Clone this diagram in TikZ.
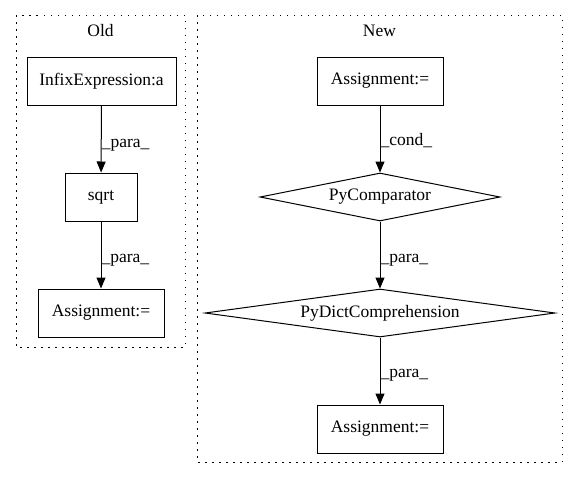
\documentclass[tikz,border=0pt]{standalone}
\usepackage{fontspec}
\setmainfont{Liberation Serif}
\usetikzlibrary{shapes.geometric,arrows.meta}
\begin{document}
\begin{tikzpicture}[x=1pt,y=-1pt,
  every node/.style={font=\fontsize{17.5}{20}\selectfont},
  box/.style={draw,line width=1pt,rectangle,inner sep=0pt},
  dia/.style={draw,line width=1pt,diamond,aspect=5,inner sep=0pt},
  cluster/.style={draw,line width=1pt,dash pattern=on 1.5pt off 5.5pt},
  edge/.style={draw,line width=1pt,-{Triangle[length=11pt,width=9pt]}},
  elab/.style={anchor=west,inner sep=0pt}]
\useasboundingbox (0,0) rectangle (579,480);
% clusters
\draw[cluster] (16,15) rectangle (185,347);
\draw[cluster] (197,15) rectangle (562,462);
\node (oldlab) at (100.5,31) {Old};
\node (newlab) at (379.5,31) {New};
% old nodes
\node[box,minimum width=149pt,minimum height=48pt] (infix) at (101.5,81) {InfixExpression:a};
\node[box,minimum width=72pt,minimum height=48pt] (sqrt) at (101,197) {sqrt};
\node[box,minimum width=126pt,minimum height=48pt] (oass) at (101,313) {Assignment:=};
% new nodes
\node[box,minimum width=126pt,minimum height=48pt] (nass1) at (380,81) {Assignment:=};
\node[dia,minimum width=240pt,minimum height=48pt] (cmp) at (380,197) {PyComparator};
\node[dia,minimum width=350pt,minimum height=48pt] (dict) at (380,313) {PyDictComprehension};
\node[box,minimum width=126pt,minimum height=48pt] (nass2) at (380,429) {Assignment:=};
% edges
\draw[edge] (infix) -- (sqrt) node[elab,midway,yshift=-6pt] {\_para\_};
\draw[edge] (sqrt) -- (oass) node[elab,midway,yshift=-5pt] {\_para\_};
\draw[edge] (nass1) -- (cmp) node[elab,midway,yshift=-2pt] {\_cond\_};
\draw[edge] (cmp) -- (dict) node[elab,midway,yshift=-5pt] {\_para\_};
\draw[edge] (dict) -- (nass2) node[elab,midway,yshift=-4pt] {\_para\_};
\end{tikzpicture}
\end{document}
